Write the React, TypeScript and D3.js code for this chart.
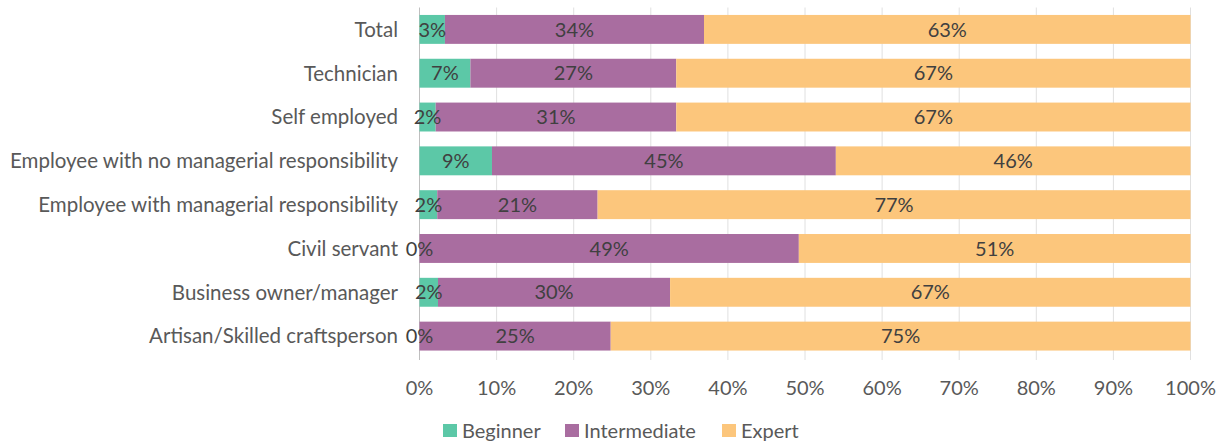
import React from "react";
import * as d3 from "d3";

const categories = [
  "Total",
  "Technician",
  "Self employed",
  "Employee with no managerial responsibility",
  "Employee with managerial responsibility",
  "Civil servant",
  "Business owner/manager",
  "Artisan/Skilled craftsperson",
];
const seriesNames = ["Beginner", "Intermediate", "Expert"];
const beginner = [3.3, 6.6, 2.1, 9.4, 2.3, 0, 2.4, 0];
const intermediate = [33.6, 26.7, 31.2, 44.6, 20.8, 49.2, 30.1, 24.8];
const expert = [63.1, 66.7, 66.7, 46.0, 76.9, 50.8, 67.49, 75.2];
const ticks = [0, 10, 20, 30, 40, 50, 60, 70, 80, 90, 100];
const colors = ["#5cc8a7", "#a96da0", "#fcc67c"];

export default function App() {
  const W = 1226, H = 444;
  const left = 419.5, right = 1190.5, top = 7.5, bottom = 358;
  const x = d3.scaleLinear().domain([0, 100]).range([left, right]);
  const y = d3.scaleBand().domain(categories).range([top, bottom]).paddingInner(0.34).paddingOuter(0.17);
  const data = categories.map((c, i) => ({ cat: c, Beginner: beginner[i], Intermediate: intermediate[i], Expert: expert[i] }));
  const stack = d3.stack<any>().keys(seriesNames)(data);
  const font = "Lato, 'Open Sans', sans-serif";
  const fs = 20.5;
  const legendX = [443, 565, 722];
  return (
    <svg width={W} height={H} style={{ position: "absolute", left: 0, top: 0, background: "#fff" }}>
      {ticks.map((t) => (
        <line key={t} x1={x(t)} x2={x(t)} y1={top} y2={bottom + 2} stroke={t === 0 ? "#bfbfbf" : "#e0e0e0"} strokeWidth={1} />
      ))}
      {stack.map((s, si) => (
        <g key={s.key}>
          {s.map((d, i) => (
            <rect key={i} x={x(d[0])} y={y(categories[i])} width={Math.max(0, x(d[1]) - x(d[0]))} height={y.bandwidth()} fill={colors[si]} />
          ))}
        </g>
      ))}
      {stack.map((s, si) => (
        <g key={"l" + s.key}>
          {s.map((d, i) => (
            <text key={i} x={(x(d[0]) + x(d[1])) / 2} y={y(categories[i])! + y.bandwidth() / 2} dy="0.36em" textAnchor="middle" fontFamily={font} fontSize={20} fill="#404040">
              {Math.round(d[1] - d[0]) + "%"}
            </text>
          ))}
        </g>
      ))}
      {categories.map((c) => (
        <text key={c} x={398} y={y(c)! + y.bandwidth() / 2} dy="0.36em" textAnchor="end" fontFamily={font} fontSize={fs} fill="#595959">
          {c}
        </text>
      ))}
      {ticks.map((t) => (
        <text key={"t" + t} x={x(t)} y={388} dy="0.36em" textAnchor="middle" fontFamily={font} fontSize={20} fill="#595959">
          {t + "%"}
        </text>
      ))}
      {seriesNames.map((n, i) => (
        <g key={n}>
          <rect x={legendX[i]} y={424} width={14} height={13} fill={colors[i]} />
          <text x={legendX[i] + 19} y={430.5} dy="0.36em" fontFamily={font} fontSize={20} fill="#595959">{n}</text>
        </g>
      ))}
    </svg>
  );
}
